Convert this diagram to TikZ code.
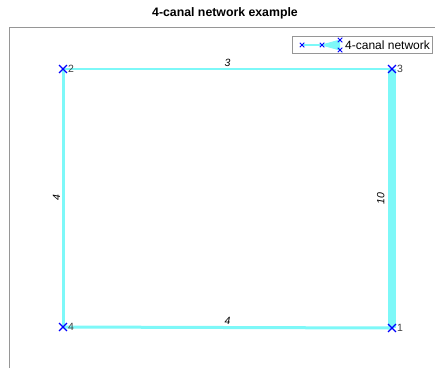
\documentclass[tikz,border=0pt]{standalone}
\usepackage{fontspec}
\setmainfont{Liberation Sans}
\usetikzlibrary{shapes.misc,positioning}
\definecolor{canal}{RGB}{125,248,248}
\definecolor{frame}{RGB}{150,150,150}

\begin{document}
\begin{tikzpicture}[x=1pt, y=-1pt,
      junction/.style={cross out, draw=blue, line width=1.3pt, minimum size=6.5pt, inner sep=0pt},
      canal/.style={draw=canal},
      len/.style={midway, font=\itshape\fontsize{10.5}{12}\selectfont, inner sep=1.5pt},
      every label/.append style={font=\fontsize{10.5}{12}\selectfont, text=black!75, inner sep=1pt}]
    \useasboundingbox (0,0) rectangle (435,368);
    \node (title) at (225,13) {\bfseries\fontsize{12.3}{14}\selectfont 4-canal network example};
    \draw[frame, line width=1pt] (9,368) -- (9,27) -- (435,27);
    % canals
    \coordinate (P2) at (63,69);
    \coordinate (P3) at (392,69);
    \coordinate (P4) at (63,327);
    \coordinate (P1) at (392,328);
    \draw[canal, line width=2pt] (P2) -- node[len, above] {3} (P3);
    \draw[canal, line width=3pt] (P2) -- node[len, rotate=90, anchor=south] {4} (P4);
    \draw[canal, line width=3pt] (P4) -- node[len, above] {4} (P1);
    \draw[canal, line width=8pt] (P3) -- node[len, rotate=90, anchor=south, yshift=2pt] {10} (P1);
    % junctions
    \node (n1) [junction, label=right:1] at (P1) {};
    \node (n2) [junction, label=right:2] at (P2) {};
    \node (n3) [junction, label=right:3] at (P3) {};
    \node (n4) [junction, label=right:4] at (P4) {};
    % legend
    \node (legend) [draw=frame, line width=0.7pt, fill=white, minimum width=140pt, minimum height=17pt,
      anchor=north west, inner sep=0pt] at (292,36) {};
    \coordinate (s1) at (302,45);
    \coordinate (s2) at (322,45);
    \coordinate (s3) at (340,40);
    \coordinate (s4) at (340,50);
    \fill[fill=canal] (s2) -- (s3) -- (s4) -- cycle;
    \draw[canal, line width=1.5pt] (s1) -- (s2);
    \draw[canal, line width=1pt] (s2) -- (s3) (s2) -- (s4);
    \foreach \s in {s1,s2,s3,s4}
      \node[junction, minimum size=3.5pt, line width=1pt] at (\s) {};
    \node (legtext) [anchor=west, inner sep=0pt, font=\fontsize{12}{14}\selectfont] at (345,45) {4-canal network};
\end{tikzpicture}
\end{document}
